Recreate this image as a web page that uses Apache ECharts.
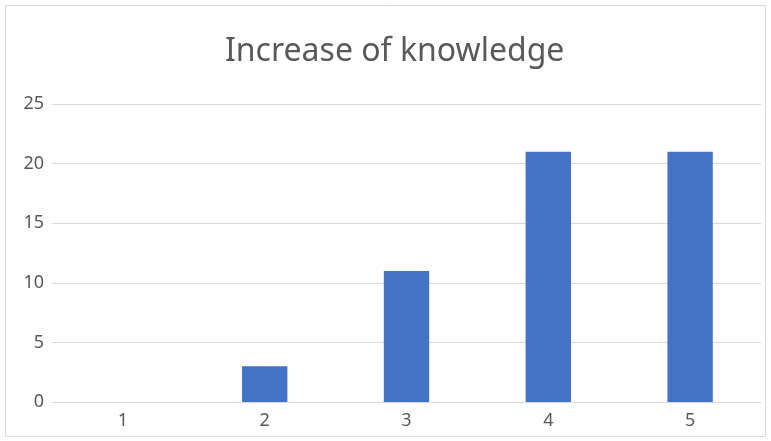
<!DOCTYPE html>
<html><head><meta charset="utf-8">
<script src="https://cdn.jsdelivr.net/npm/echarts@6/dist/echarts.min.js"></script>
<style>html,body{margin:0;padding:0;background:#fff}#c{width:771px;height:441px;}</style>
</head><body><div id="c"></div>
<script>
var categories = ['1','2','3','4','5'];
var values = [0,3,11,21,21];
var yTicks = {min:0,max:25,interval:5};
var chart = echarts.init(document.getElementById('c'));
chart.setOption({
  animation:false,
  graphic:[{type:'rect',shape:{x:5.5,y:5.5,width:760,height:431},style:{fill:'none',stroke:'#d9d9d9',lineWidth:1}}],
  title:{text:'Increase of knowledge',left:220,top:31,textStyle:{fontFamily:'Noto Sans',fontSize:32,fontWeight:'normal',color:'#595959'}},
  grid:{left:52,right:10,top:104,bottom:39},
  xAxis:{type:'category',data:categories,axisTick:{show:false},axisLine:{lineStyle:{color:'#d9d9d9',width:1}},
    axisLabel:{color:'#595959',fontSize:18,fontFamily:'Noto Sans',margin:10}},
  yAxis:{type:'value',min:yTicks.min,max:yTicks.max,interval:yTicks.interval,axisLine:{show:false},axisTick:{show:false},
    splitLine:{lineStyle:{color:'#d9d9d9',width:1}},axisLabel:{color:'#595959',fontSize:18,fontFamily:'Noto Sans',margin:8}},
  series:[{type:'bar',data:values,barWidth:'32%',itemStyle:{color:'#4472c4'}}]
});
</script></body></html>
